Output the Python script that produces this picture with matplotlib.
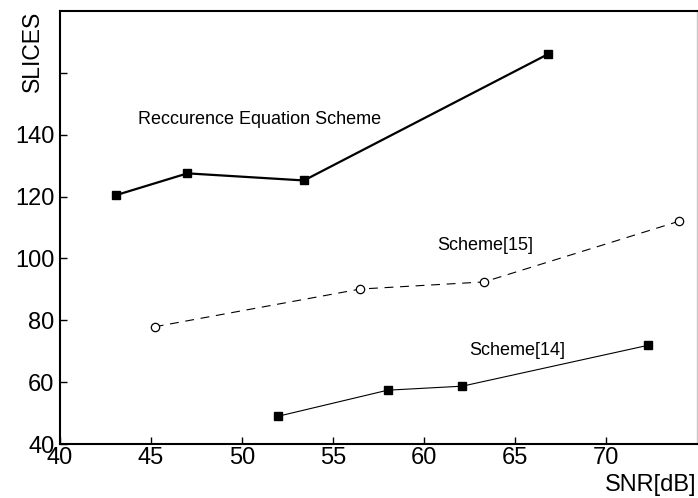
import matplotlib
matplotlib.use('Agg')
import matplotlib.pyplot as plt

plt.rcParams['font.family'] = ['Liberation Sans', 'DejaVu Sans']

# SNR in dB vs. slices for the three implementations
snr_rec = [43.1, 47.0, 53.4, 66.8]
slices_rec = [120.5, 127.5, 125.2, 166.0]

snr_s15 = [45.2, 56.5, 63.3, 74.0]
slices_s15 = [77.9, 90.1, 92.4, 112.0]

snr_s14 = [52.0, 58.0, 62.1, 72.3]
slices_s14 = [49.0, 57.4, 58.7, 71.9]

xticks = [40, 45, 50, 55, 60, 65, 70]
yticks = [40, 60, 80, 100, 120, 140, 160]
yticklabels = ['40', '60', '80', '100', '120', '140', '']

fig = plt.figure(figsize=(6.98, 4.98), dpi=100)
ax = fig.add_axes([0.086, 0.1084, 0.9126, 0.8696])

ax.plot(snr_rec, slices_rec, color='black', lw=1.6, marker='s', ms=6,
        mfc='black', mec='black')
ax.plot(snr_s15, slices_s15, color='black', lw=0.8, ls=(0, (8, 6)), marker='o',
        ms=6, mfc='white', mec='black', mew=0.9)
ax.plot(snr_s14, slices_s14, color='black', lw=0.8, marker='s', ms=6,
        mfc='black', mec='black')

ax.text(44.3, 145, 'Reccurence Equation Scheme', fontsize=13, va='center', ha='left')
ax.text(60.7, 104.2, 'Scheme[15]', fontsize=13, va='center', ha='left')
ax.text(62.5, 70.3, 'Scheme[14]', fontsize=13, va='center', ha='left')

ax.set_xlim(40, 75)
ax.set_ylim(40, 180)
ax.set_xticks(xticks)
ax.set_yticks(yticks)
ax.set_yticklabels(yticklabels)
ax.tick_params(direction='in', length=5, width=1, labelsize=17)
ax.tick_params(axis='y', pad=4)
ax.tick_params(axis='x', pad=2)

for side in ['left', 'bottom', 'top']:
    ax.spines[side].set_linewidth(1.5)
ax.spines['right'].set_color('#c8c8c8')
ax.spines['right'].set_linewidth(1)

fig.text(0.046, 0.978, 'SLICES', rotation=90, ha='center', va='top', fontsize=16.5)
fig.text(0.997, 0.005, 'SNR[dB]', ha='right', va='bottom', fontsize=17)

fig.savefig('out.png', dpi=100)
